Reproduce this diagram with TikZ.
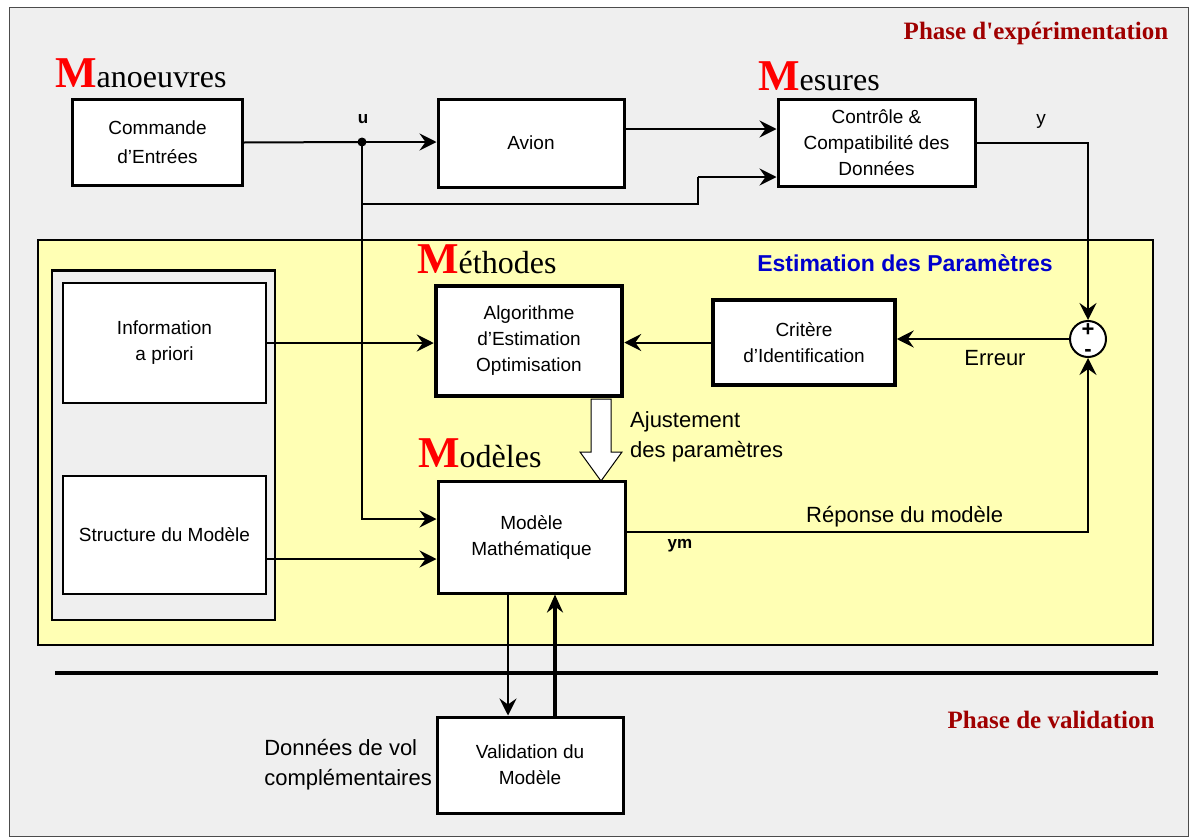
\documentclass[tikz,border=0pt]{standalone}
\usepackage{fontspec}
\setmainfont{Liberation Sans}
\newfontfamily\serifhead{Liberation Serif}
\usetikzlibrary{arrows.meta,calc}
\definecolor{bggray}{RGB}{239,239,239}
\definecolor{paleyellow}{RGB}{255,255,180}
\definecolor{darkred}{RGB}{160,0,0}
\definecolor{headblue}{RGB}{0,0,204}
\tikzset{
  box/.style={draw=black, line width=3pt, fill=white, align=center, inner sep=2pt,
              font=\fontsize{19}{26}\selectfont},
  thinbox/.style={box, line width=1.8pt},
  conn/.style={line width=2pt, -{Stealth[length=17pt,width=17pt,inset=6pt]}},
  plain/.style={line width=2pt},
  lbl/.style={font=\fontsize{22}{30}\selectfont, inner sep=0pt},
  head/.style={anchor=base west, inner sep=0pt, font=\serifhead\fontsize{32}{32}\selectfont},
  phase/.style={font=\serifhead\bfseries\fontsize{25}{25}\selectfont, text=darkred, inner sep=0pt},
  sign/.style={inner sep=0pt, font=\bfseries\fontsize{22}{22}\selectfont}
}
\newcommand{\bigM}{{\color{red}\bfseries\fontsize{44}{44}\selectfont M}}
\begin{document}
\begin{tikzpicture}[x=1pt,y=-1pt]
\useasboundingbox (0,0) rectangle (1195,838);
\fill[white] (0,0) rectangle (1195,838);
\draw[fill=bggray, draw=black!70, line width=1pt] (9,7) rectangle (1188,836);
% yellow region
\draw[fill=paleyellow, line width=1.2pt] (38,240) rectangle (1153,645);
\draw[fill=bggray, line width=1.5pt] (52,270) rectangle (275,620);
\draw[line width=3pt] (52,270) -- (275,270);
% headings
\node[phase] (phexp) at (1036,33) {Phase d'expérimentation};
\node[phase] (phval) at (1051,720) {Phase de validation};
\node[font=\bfseries\fontsize{23}{23}\selectfont, text=headblue, inner sep=0pt] (est) at (905,263) {Estimation des Paramètres};
\node[head] (hman) at (55,87) {\bigM anoeuvres};
\node[head] (hmes) at (758,90) {\bigM esures};
\node[head] (hmet) at (417,273) {\bigM éthodes};
\node[head] (hmod) at (418,467) {\bigM odèles};
% boxes
\node[box, minimum width=170pt, minimum height=86pt, font=\fontsize{19}{29}\selectfont] (cmd) at (157.5,142.5) {Commande\\d'Entrées};
\node[box, minimum width=186pt, minimum height=88pt] (avion) at (531,143) {Avion};
\node[box, minimum width=197pt, minimum height=87pt] (ctrl) at (876.5,142.5) {Contrôle \&\\Compatibilité des\\Données};
\node[thinbox, minimum width=203pt, minimum height=120pt] (info) at (164.5,343) {Information\\a priori};
\node[thinbox, minimum width=203pt, minimum height=118pt] (struct) at (164.5,535) {Structure du Modèle};
\node[box, line width=4.5pt, minimum width=186pt, minimum height=110pt] (algo) at (529,341) {Algorithme\\d'Estimation\\Optimisation};
\node[box, line width=3.5pt, minimum width=182pt, minimum height=85pt] (crit) at (804,342.5) {Critère\\d'Identification};
\node[draw, line width=2pt, fill=white, circle, minimum size=36pt, inner sep=0pt] (sum) at (1088,339) {};
\node[sign] (plus) at (1088,330) {+};
\node[sign] (minus) at (1088,353) {-};
\node[box, minimum width=187pt, minimum height=112pt] (model) at (531.5,537) {Modèle\\Mathématique};
\node[box, minimum width=186pt, minimum height=96pt] (valid) at (530,765) {Validation du\\Modèle};
% junction
\coordinate (u) at (362,142);
\fill (u) circle (4.5pt);
\node[font=\bfseries\fontsize{17}{17}\selectfont, inner sep=0pt] (ulab) at (363,119) {u};
\node[font=\fontsize{19}{19}\selectfont, inner sep=0pt] (ylab) at (1041,121) {y};
% connectors top
\draw[plain] (cmd.east) -- (u);
\draw[conn] (u) -- (u -| avion.west);
\draw[conn] ([yshift=14pt]avion.east) -- ([yshift=14pt]avion.east -| ctrl.west);
\coordinate (b1) at (362,204);
\coordinate (b2) at (698,204);
\coordinate (b3) at (698,177);
\draw[plain] (b1) -- (b2) -- (b3);
\draw[conn] (b3) -- (b3 -| ctrl.west);
\draw[conn] (ctrl.east) -| (sum.north);
% middle
\draw[conn] (u) |- ([yshift=18pt]model.west);
\draw[conn] (info.east) -- (info.east -| algo.west);
\draw[conn] (sum.west) -- (sum.west -| crit.east);
\draw[conn] (crit.west) -- (crit.west -| algo.east);
\draw[conn] ([yshift=-24pt]struct.east) -- ([yshift=-24pt]struct.east -| model.west);
\draw[conn] ([yshift=5pt]model.east) -| (sum.south);
\node[lbl] (err) at (995,358) {Erreur};
\node[lbl, anchor=west] (rep) at (806,517) {Réponse du modèle};
\node[font=\bfseries\fontsize{17}{17}\selectfont, inner sep=0pt] (ym) at (680,546) {ym};
% hollow adjustment arrow
\draw[line width=1pt, fill=white] (591,399) -- (611,399) -- (611,452) -- (622,452) -- (601,481) -- (580,452) -- (591,452) -- cycle;
\node[lbl, anchor=west, align=left] (ajust) at (630,437) {Ajustement\\des paramètres};
% validation
\draw[line width=4pt] (55,673) -- (1158,673);
\draw[conn] (model.south -| 508,0) -- (valid.north -| 508,0);
\draw[line width=4pt, -{Stealth[length=18pt,width=16pt,inset=6pt]}] (valid.north -| 555,0) -- (model.south -| 555,0);
\node[lbl, anchor=east, align=left] (donn) at (432,765) {Données de vol\\complémentaires};
\end{tikzpicture}
\end{document}
